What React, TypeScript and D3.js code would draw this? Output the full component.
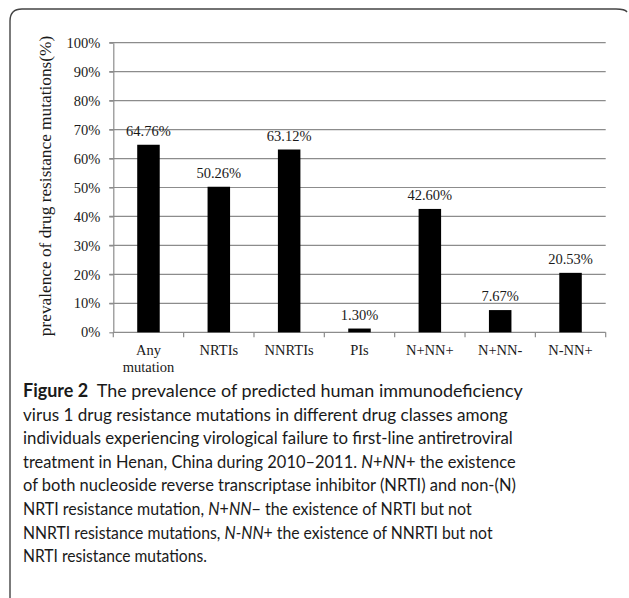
import React, { useEffect, useRef } from 'react';
import * as d3 from 'd3';

const categories = ['Any mutation', 'NRTIs', 'NNRTIs', 'PIs', 'N+NN+', 'N+NN-', 'N-NN+'];
const prevalence = [64.76, 50.26, 63.12, 1.3, 42.6, 7.67, 20.53];
const valueLabels = ['64.76%', '50.26%', '63.12%', '1.30%', '42.60%', '7.67%', '20.53%'];
const yTicks = [0, 10, 20, 30, 40, 50, 60, 70, 80, 90, 100];

// caption lines: [kind, text] segments (b = bold, i = italic, n = normal)
const captionLines: [string, string][][] = [
  [['b', 'Figure 2'], ['n', '  The prevalence of predicted human immunodeficiency']],
  [['n', 'virus 1 drug resistance mutations in different drug classes among']],
  [['n', 'individuals experiencing virological failure to first-line antiretroviral']],
  [['n', 'treatment in Henan, China during 2010\u20132011. '], ['i', 'N'], ['n', '+'], ['i', 'NN'], ['n', '+ the existence']],
  [['n', 'of both nucleoside reverse transcriptase inhibitor (NRTI) and non-(N)']],
  [['n', 'NRTI resistance mutation, '], ['i', 'N'], ['n', '+'], ['i', 'NN'], ['n', '\u2212 the existence of NRTI but not']],
  [['n', 'NNRTI resistance mutations, '], ['i', 'N-NN'], ['n', '+ the existence of NNRTI but not']],
  [['n', 'NRTI resistance mutations.']],
];
const captionWidths = [500, 485, 490, 493, 493, 449, 470, 184];

export default function App() {
  const svgRef = useRef<SVGSVGElement>(null);

  useEffect(() => {
    if (!svgRef.current) return;
    const svg = d3.select(svgRef.current);
    svg.selectAll('*').remove();

    const left = 113.3, right = 605.7, top = 42.7, bottom = 332.3;
    const serif = '"Liberation Serif", "Times New Roman", serif';

    // frame
    svg.append('path')
      .attr('d', 'M10,598 L10,21 Q10,9 22,9 L616,9 Q625,9 627,12')
      .attr('fill', 'none')
      .attr('stroke', '#444')
      .attr('stroke-width', 1.4);

    const x = d3.scaleBand<string>()
      .domain(categories)
      .range([left, right])
      .paddingInner(0.68)
      .paddingOuter(0.34);

    const y = d3.scaleLinear().domain([0, 100]).range([bottom, top]);

    const g = svg.append('g');

    // gridlines
    g.selectAll('.grid')
      .data(yTicks.slice(1))
      .enter().append('line')
      .attr('x1', left - 4)
      .attr('x2', right)
      .attr('y1', d => y(d))
      .attr('y2', d => y(d))
      .attr('stroke', '#8c8c8c')
      .attr('stroke-width', 1.2);

    // y axis
    const yAxis = g.append('g')
      .attr('transform', `translate(${left},0)`)
      .call(d3.axisLeft(y).tickValues(yTicks).tickSize(4).tickSizeOuter(0).tickFormat(d => `${d}%`));
    yAxis.select('.domain').attr('stroke', '#8c8c8c').attr('stroke-width', 1.2);
    yAxis.selectAll('.tick line').attr('stroke', '#8c8c8c').attr('stroke-width', 1.2);
    yAxis.selectAll('.tick text')
      .attr('x', -13)
      .attr('fill', '#1a1a1a')
      .style('font-family', serif)
      .style('font-size', '14.5px');

    // x axis line & ticks at category boundaries
    g.append('line')
      .attr('x1', left).attr('x2', right)
      .attr('y1', bottom).attr('y2', bottom)
      .attr('stroke', '#8c8c8c').attr('stroke-width', 1.2);
    const step = x.step();
    const bounds = d3.range(categories.length + 1).map(i => left + i * step);
    g.selectAll('.xtick')
      .data(bounds)
      .enter().append('line')
      .attr('x1', d => d).attr('x2', d => d)
      .attr('y1', bottom).attr('y2', bottom + 5)
      .attr('stroke', '#8c8c8c').attr('stroke-width', 1.2);

    // x labels
    categories.forEach(c => {
      const cx = (x(c) || 0) + x.bandwidth() / 2;
      const parts = c === 'Any mutation' ? ['Any', 'mutation'] : [c];
      parts.forEach((p, i) => {
        g.append('text')
          .attr('x', cx)
          .attr('y', 355 + i * 16.5)
          .attr('text-anchor', 'middle')
          .attr('fill', '#1a1a1a')
          .style('font-family', serif)
          .style('font-size', '14.5px')
          .text(p);
      });
    });

    // bars
    g.selectAll('.bar')
      .data(prevalence)
      .enter().append('rect')
      .attr('x', (d, i) => x(categories[i]) || 0)
      .attr('y', d => y(d))
      .attr('width', x.bandwidth())
      .attr('height', d => bottom - y(d))
      .attr('fill', '#000');

    // value labels
    g.selectAll('.val')
      .data(prevalence)
      .enter().append('text')
      .attr('x', (d, i) => (x(categories[i]) || 0) + x.bandwidth() / 2)
      .attr('y', d => y(d) - 9)
      .attr('text-anchor', 'middle')
      .attr('fill', '#1a1a1a')
      .style('font-family', serif)
      .style('font-size', '14.5px')
      .text((d, i) => valueLabels[i]);

    // y title
    g.append('text')
      .attr('transform', `translate(51,186) rotate(-90)`)
      .attr('text-anchor', 'middle')
      .attr('fill', '#1a1a1a')
      .style('font-family', serif)
      .style('font-size', '17.3px')
      .text('prevalence of drug resistance mutations(%)');

    // caption: each line squeezed horizontally to the width seen in the figure
    captionLines.forEach((line, li) => {
      const y0 = 397 + li * 23.6;
      const t = svg.append('text')
        .attr('x', 0)
        .attr('y', 0)
        .attr('fill', '#1a1a1a')
        .style('font-family', 'Lato, "Noto Sans", sans-serif')
        .style('font-size', '18px');
      line.forEach(([kind, s]) => {
        t.append('tspan')
          .attr('font-weight', kind === 'b' ? 'bold' : 'normal')
          .attr('font-style', kind === 'i' ? 'italic' : 'normal')
          .style('white-space', 'pre')
          .text(s);
      });
      const w = (t.node() as SVGTextElement).getComputedTextLength();
      const sx = w > 0 ? captionWidths[li] / w : 1;
      t.attr('transform', `translate(23,${y0}) scale(${sx},1)`);
    });
  }, []);

  return (
    <svg
      ref={svgRef}
      width={629}
      height={598}
      style={{ position: 'absolute', left: 0, top: 0, background: '#fff' }}
    />
  );
}
